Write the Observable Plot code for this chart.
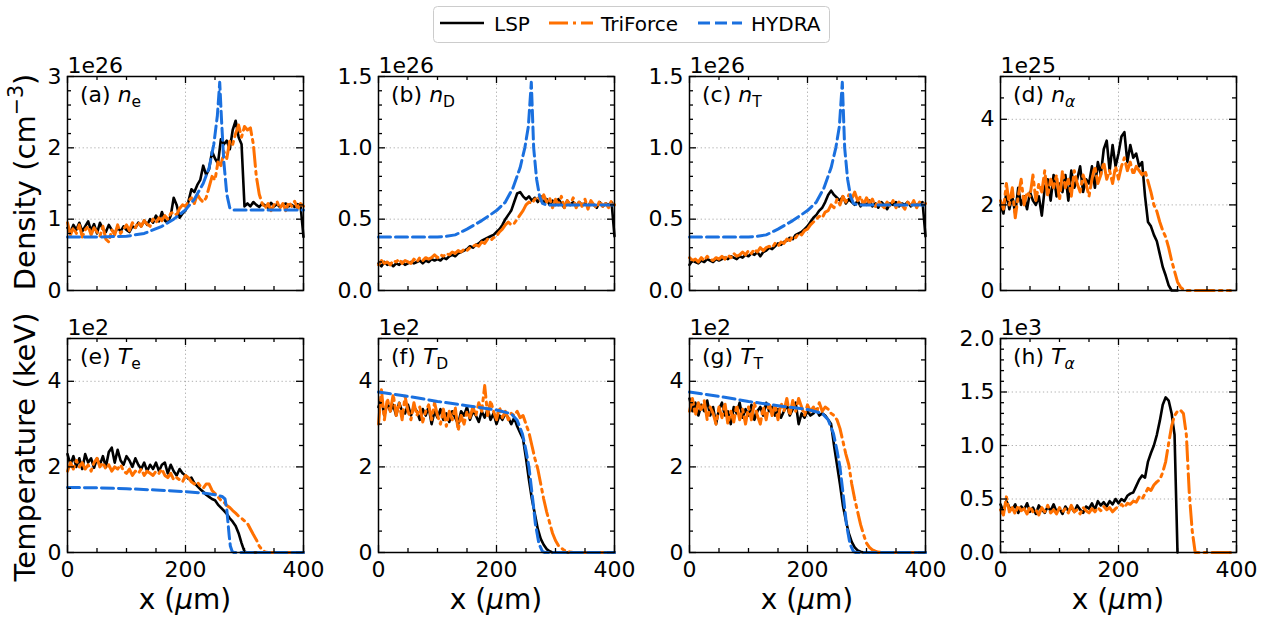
<!DOCTYPE html>
<html><head><meta charset="utf-8">
<script src="https://cdn.jsdelivr.net/npm/d3@7"></script>
<script src="https://cdn.jsdelivr.net/npm/@observablehq/plot@0.6"></script>
<style>
body{margin:0;background:#fff;}
#wrap{position:relative;width:1268px;height:619px;background:#fff;overflow:hidden;}
#wrap svg{position:absolute;}
</style></head><body><div id="wrap"></div>
<script>
// ---------- data ----------
const seriesNames = ["LSP", "TriForce", "HYDRA"];
const xGrid = [0,5,10,15,20,25,30,35,40,45,50,55,60,65,70,75,80,85,90,95,100,105,110,115,120,125,130,135,140,145,150,155,160,165,170,175,180,185,190,195,200,205,210,215,220,225,230,235,240,245,250,255,260,265,270,275,280,285,290,295,300,305,310,315,320,325,330,335,340,345,350,355,360,365,370,375,380,385,390,395,400];
const xMajor = [0,200,400];
const xMajorText = ["0","200","400"];

// (a) n_e  [1e26 cm^-3]
const aLSP = [0.88,0.82,0.92,0.85,0.95,0.83,0.90,0.97,0.84,0.93,
 0.80,0.95,0.86,0.82,0.92,0.85,0.80,0.88,0.83,0.90,
 0.85,0.82,0.90,0.88,0.95,0.90,0.98,0.92,1.00,0.95,
 1.05,0.97,1.10,0.98,0.95,1.05,1.30,1.20,1.02,1.08,
 1.12,1.25,1.42,1.38,1.48,1.55,1.75,1.62,1.70,1.95,
 1.85,1.78,2.12,2.05,2.10,1.98,2.25,2.38,2.15,2.05,
 1.18,1.22,1.18,1.24,1.20,1.17,1.22,1.19,1.16,1.23,
 1.18,1.21,1.17,1.20,1.22,1.18,1.20,1.17,1.21,1.19,
 0.75];
const aTri = [0.95,0.78,0.88,0.80,0.92,0.75,0.85,0.90,0.78,0.88,
 0.82,0.76,0.90,0.72,0.68,0.85,0.78,0.92,0.80,0.86,
 0.92,0.84,0.95,0.88,0.96,0.90,0.98,0.93,0.90,1.00,
 0.95,1.02,0.98,1.05,1.00,1.08,1.10,1.06,1.15,1.20,
 1.18,1.25,1.30,1.22,1.35,1.28,1.24,1.30,1.45,1.60,
 1.55,1.80,1.75,1.95,1.85,2.10,2.05,2.20,2.32,2.15,
 2.30,2.25,2.28,2.05,1.60,1.35,1.22,1.15,1.22,1.12,
 1.20,1.25,1.15,1.22,1.12,1.24,1.18,1.25,1.15,1.22,
 1.18];
const aHydX = [0,50,100,130,160,180,200,215,230,240,248,254,258,261,265,270,275,280,300,400];
const aHydY = [0.75,0.75,0.76,0.80,0.90,1.00,1.13,1.28,1.50,1.72,2.05,2.45,2.92,2.40,1.80,1.35,1.16,1.13,1.13,1.13];

// (b) n_D  [1e26]
const bLSP = [0.19,0.17,0.20,0.18,0.19,0.17,0.19,0.18,0.20,0.18,
 0.19,0.20,0.19,0.20,0.21,0.19,0.21,0.20,0.22,0.21,
 0.22,0.21,0.23,0.22,0.24,0.25,0.24,0.26,0.27,0.28,
 0.29,0.31,0.30,0.32,0.33,0.35,0.36,0.37,0.38,0.39,
 0.41,0.43,0.46,0.50,0.53,0.56,0.62,0.68,0.69,0.66,
 0.64,0.66,0.63,0.65,0.62,0.66,0.61,0.64,0.60,0.63,
 0.60,0.64,0.61,0.58,0.63,0.60,0.62,0.59,0.62,0.60,
 0.61,0.59,0.62,0.60,0.58,0.62,0.59,0.61,0.60,0.62,
 0.38];
const bTri = [0.18,0.21,0.19,0.20,0.18,0.21,0.20,0.22,0.19,0.21,
 0.20,0.19,0.22,0.20,0.23,0.21,0.23,0.22,0.23,0.25,
 0.23,0.25,0.24,0.26,0.25,0.27,0.26,0.28,0.27,0.29,
 0.28,0.30,0.31,0.32,0.31,0.34,0.33,0.36,0.35,0.37,
 0.38,0.41,0.43,0.46,0.48,0.46,0.47,0.50,0.53,0.56,
 0.60,0.62,0.61,0.64,0.66,0.63,0.67,0.62,0.65,0.58,
 0.64,0.60,0.66,0.58,0.63,0.60,0.65,0.58,0.62,0.59,
 0.64,0.57,0.63,0.60,0.58,0.63,0.59,0.61,0.58,0.63,
 0.60];
const bHydX = [0,50,100,115,130,150,175,200,215,228,240,248,254,259,263,268,273,278,284,300,400];
const bHydY = [0.375,0.375,0.375,0.38,0.39,0.43,0.49,0.56,0.62,0.72,0.86,1.0,1.15,1.46,1.0,0.78,0.66,0.61,0.60,0.60,0.60];

// (c) n_T  [1e26]
const cLSP = [0.18,0.21,0.20,0.19,0.21,0.20,0.22,0.21,0.20,0.22,
 0.21,0.22,0.23,0.22,0.24,0.23,0.22,0.24,0.23,0.25,
 0.24,0.26,0.25,0.27,0.24,0.27,0.28,0.30,0.29,0.31,
 0.33,0.32,0.34,0.35,0.37,0.36,0.39,0.40,0.41,0.43,
 0.45,0.48,0.51,0.53,0.56,0.58,0.62,0.67,0.70,0.67,
 0.65,0.63,0.66,0.61,0.64,0.62,0.60,0.63,0.59,0.62,
 0.60,0.63,0.59,0.61,0.58,0.62,0.60,0.57,0.61,0.60,
 0.62,0.59,0.61,0.60,0.62,0.59,0.61,0.60,0.61,0.62,
 0.38];
const cTri = [0.23,0.21,0.22,0.20,0.23,0.21,0.24,0.22,0.21,0.23,
 0.22,0.24,0.22,0.25,0.23,0.26,0.24,0.25,0.27,0.25,
 0.28,0.26,0.29,0.27,0.30,0.28,0.30,0.31,0.30,0.33,
 0.31,0.34,0.33,0.36,0.35,0.38,0.37,0.40,0.39,0.42,
 0.43,0.46,0.48,0.50,0.52,0.51,0.55,0.56,0.60,0.58,
 0.64,0.60,0.66,0.62,0.67,0.64,0.69,0.63,0.66,0.60,
 0.65,0.61,0.64,0.59,0.63,0.60,0.58,0.62,0.59,0.63,
 0.58,0.62,0.60,0.57,0.62,0.59,0.63,0.58,0.62,0.60,
 0.61];
const cHydX = [0,50,100,115,130,150,175,200,215,228,240,248,254,259,263,268,273,278,284,300,400];
const cHydY = [0.375,0.375,0.375,0.38,0.39,0.43,0.49,0.56,0.62,0.72,0.86,1.0,1.15,1.46,1.0,0.78,0.66,0.61,0.60,0.60,0.60];

// (d) n_alpha  [1e25]
const dLSP = [2.0,1.8,2.3,1.9,2.2,1.8,2.4,2.0,2.2,1.9,
 2.3,2.1,2.0,2.2,1.75,2.4,2.6,2.1,2.7,2.2,
 2.5,2.3,2.7,2.1,2.8,2.4,2.6,2.9,2.3,2.6,
 2.5,2.9,2.4,3.0,2.7,3.3,3.5,2.8,3.4,2.9,
 3.2,3.6,3.7,3.0,3.4,3.1,3.2,2.9,3.0,2.2,
 1.6,1.5,1.3,1.15,0.85,0.55,0.35,0.12,0,0,
 0];
const dTri = [2.1,1.9,2.5,2.0,2.4,1.7,2.2,2.6,2.0,2.3,
 2.2,2.7,2.1,2.5,2.3,2.8,2.2,2.6,2.4,2.7,
 2.1,2.8,2.4,2.6,2.2,2.8,2.5,2.3,2.7,2.5,
 2.2,2.6,2.9,2.5,2.7,3.0,2.6,2.8,2.5,2.9,
 2.6,2.9,3.1,2.8,3.0,2.7,2.9,2.8,2.7,2.8,
 2.55,2.3,2.0,1.85,1.6,1.4,1.25,1.0,0.7,0.45,
 0.2,0.08,0.02,0,0,0,0,0,0,0,
 0,0,0,0,0,0,0,0,0];

// (e) T_e  [1e2 keV]
const eLSP = [2.3,2.05,2.25,2.0,2.2,1.95,2.3,2.1,2.2,1.98,
 2.2,2.05,2.25,2.0,2.35,2.45,2.1,2.4,2.15,2.05,
 2.25,2.15,2.0,2.2,2.05,1.95,2.1,1.9,2.05,1.95,
 2.1,1.9,2.05,2.1,1.85,2.05,1.9,1.8,1.95,1.85,
 1.8,1.72,1.75,1.62,1.55,1.48,1.42,1.35,1.3,1.25,
 1.22,1.12,1.05,0.98,0.9,0.8,0.72,0.62,0.45,0.22,
 0.02,0,0,0,0,0,0,0,0,0,
 0,0,0,0,0,0,0,0,0,0,
 0];
const eTri = [1.9,2.1,1.95,2.15,2.0,2.1,1.95,2.05,1.9,2.1,
 2.2,2.0,2.1,1.95,2.05,1.9,2.0,1.95,2.05,1.9,
 1.85,1.95,1.8,1.9,1.85,1.95,1.8,1.9,1.85,1.8,
 1.9,1.85,1.95,1.8,1.75,1.85,1.7,1.75,1.7,1.65,
 1.8,1.75,1.65,1.6,1.65,1.55,1.5,1.6,1.6,1.45,
 1.38,1.3,1.22,1.18,1.1,1.05,0.98,0.92,0.85,0.8,
 0.74,0.68,0.55,0.42,0.3,0.15,0.06,0.01,0,0,
 0,0,0,0,0,0,0,0,0,0,
 0];
const eHydX = [0,50,100,150,200,230,250,262,267,270,272,274,276,279,282,400];
const eHydY = [1.52,1.51,1.49,1.46,1.42,1.39,1.35,1.31,1.25,1.0,0.7,0.4,0.15,0.03,0,0];

// (f) T_D  [1e2 keV]
const fLSP = [3.4,3.6,3.2,3.5,3.3,3.45,3.2,3.5,3.3,3.25,
 3.45,3.2,3.4,3.3,3.1,3.35,3.2,3.4,3.0,3.3,
 3.15,3.35,3.1,3.25,3.05,3.3,3.15,3.0,3.3,3.2,
 3.4,3.1,3.3,3.2,3.05,3.3,3.15,3.35,3.1,3.25,
 3.0,3.2,3.1,3.25,3.15,3.0,3.15,2.95,2.8,2.65,
 2.2,1.7,1.25,0.9,0.55,0.32,0.18,0.08,0.03,0,
 0,0,0,0,0,0,0,0,0,0,
 0,0,0,0,0,0,0,0,0,0,
 0];
const fTri = [3.0,3.8,3.1,3.6,3.3,3.7,3.2,3.5,3.1,3.65,
 3.3,3.1,3.5,3.2,3.4,3.05,3.3,3.45,3.1,3.5,
 3.2,3.0,3.35,2.95,3.3,3.1,3.4,2.85,3.2,3.0,
 3.3,3.15,3.4,3.2,3.5,3.3,3.9,3.2,3.55,3.3,
 3.1,3.4,3.15,3.3,3.1,3.25,3.2,3.3,3.15,3.2,
 3.0,2.8,2.5,2.2,1.95,1.6,1.25,0.95,0.7,0.45,
 0.28,0.16,0.1,0.05,0.03,0.01,0,0,0,0,
 0,0,0,0,0,0,0,0,0,0,
 0];
const fHydX = [0,50,100,150,200,225,235,244,250,255,261,266,272,278,282,400];
const fHydY = [3.75,3.65,3.53,3.43,3.33,3.24,3.09,2.77,2.38,2.0,1.29,0.66,0.2,0.02,0,0];

// (g) T_T  [1e2 keV]
const gLSP = [3.6,3.3,3.5,3.2,3.45,3.3,3.55,3.2,3.4,3.0,
 3.35,3.5,3.2,3.3,3.0,3.4,3.25,3.5,3.15,3.35,
 3.2,3.45,3.1,3.3,3.4,3.2,3.5,3.3,3.4,3.2,
 3.35,3.15,3.3,3.45,3.2,3.35,3.5,3.0,3.25,3.15,
 3.3,3.2,3.25,3.35,3.2,3.25,3.2,3.1,3.0,2.5,
 2.05,1.6,1.1,0.75,0.45,0.25,0.12,0.05,0.02,0,
 0,0,0,0,0,0,0,0,0,0,
 0,0,0,0,0,0,0,0,0,0,
 0];
const gTri = [3.3,3.6,3.2,3.5,3.3,3.55,3.1,3.4,3.25,3.0,
 3.4,3.15,3.5,3.0,3.3,3.05,3.45,3.1,3.35,3.0,
 3.4,3.1,3.5,3.2,3.0,3.4,3.1,3.5,3.2,3.45,
 3.1,3.5,3.3,3.6,3.2,3.55,3.3,3.6,3.4,3.2,
 3.45,3.3,3.4,3.25,3.5,3.3,3.4,3.35,3.25,3.2,
 3.1,2.9,2.6,2.3,2.05,1.6,1.25,0.95,0.65,0.42,
 0.22,0.12,0.06,0.03,0.01,0,0,0,0,0,
 0,0,0,0,0,0,0,0,0,0,
 0];
const gHydX = [0,50,100,150,200,225,235,244,250,255,261,266,272,278,282,400];
const gHydY = [3.75,3.65,3.53,3.43,3.34,3.25,3.1,2.78,2.38,2.0,1.29,0.66,0.2,0.02,0,0];

// (h) T_alpha  [1e3 keV]
const hLSP = [0.45,0.38,0.48,0.42,0.40,0.45,0.37,0.43,0.40,0.46,
 0.38,0.42,0.36,0.44,0.40,0.37,0.43,0.39,0.45,0.38,
 0.41,0.36,0.43,0.39,0.42,0.38,0.44,0.40,0.37,0.43,
 0.41,0.46,0.40,0.48,0.44,0.47,0.43,0.48,0.45,0.50,
 0.46,0.50,0.48,0.53,0.55,0.56,0.62,0.68,0.72,0.70,
 0.85,0.93,1.0,1.1,1.23,1.38,1.45,1.42,1.3,1.1,
 0];
const hTri = [0.40,0.35,0.52,0.38,0.42,0.36,0.44,0.39,0.41,0.36,
 0.43,0.38,0.40,0.35,0.42,0.38,0.44,0.37,0.40,0.36,
 0.42,0.38,0.41,0.37,0.44,0.38,0.40,0.36,0.42,0.39,
 0.37,0.41,0.38,0.42,0.39,0.43,0.40,0.42,0.38,0.41,
 0.43,0.45,0.42,0.46,0.45,0.48,0.47,0.52,0.50,0.55,
 0.60,0.58,0.63,0.66,0.68,0.75,0.85,1.02,1.18,1.28,
 1.32,1.33,1.30,1.1,0.55,0.2,0,0,0,0,
 0,0,0,0,0,0,0,0,0];

// axis tick values / labels
const yTicksA = [0,1,2,3], yTextA = ["0","1","2","3"];
const yTicksB = [0,0.5,1.0,1.5], yTextB = ["0.0","0.5","1.0","1.5"];
const yTicks5 = [0,2,4], yText5 = ["0","2","4"];
const yTicksH = [0,0.5,1.0,1.5,2.0], yTextH = ["0.0","0.5","1.0","1.5","2.0"];

const C_LSP = "#000000", C_TRI = "#ff7000", C_HYD = "#1a70df";

const panels = [
  {col:0,row:0,dom:[0,3],  ticks:yTicksA,text:yTextA,minor:0.2,exp:"1e26",lab:["(a) ","n","e",false],lsp:aLSP,tri:aTri,hx:aHydX,hy:aHydY},
  {col:1,row:0,dom:[0,1.5],ticks:yTicksB,text:yTextB,minor:0.1,exp:"1e26",lab:["(b) ","n","D",false],lsp:bLSP,tri:bTri,hx:bHydX,hy:bHydY},
  {col:2,row:0,dom:[0,1.5],ticks:yTicksB,text:yTextB,minor:0.1,exp:"1e26",lab:["(c) ","n","T",false],lsp:cLSP,tri:cTri,hx:cHydX,hy:cHydY},
  {col:3,row:0,dom:[0,5],  ticks:yTicks5,text:yText5,minor:0.5,exp:"1e25",lab:["(d) ","n","α",true],lsp:dLSP,tri:dTri},
  {col:0,row:1,dom:[0,5],  ticks:yTicks5,text:yText5,minor:0.5,exp:"1e2",lab:["(e) ","T","e",false],lsp:eLSP,tri:eTri,hx:eHydX,hy:eHydY},
  {col:1,row:1,dom:[0,5],  ticks:yTicks5,text:yText5,minor:0.5,exp:"1e2",lab:["(f) ","T","D",false],lsp:fLSP,tri:fTri,hx:fHydX,hy:fHydY},
  {col:2,row:1,dom:[0,5],  ticks:yTicks5,text:yText5,minor:0.5,exp:"1e2",lab:["(g) ","T","T",false],lsp:gLSP,tri:gTri,hx:gHydX,hy:gHydY},
  {col:3,row:1,dom:[0,2],  ticks:yTicksH,text:yTextH,minor:0.1,exp:"1e3",lab:["(h) ","T","α",true],lsp:hLSP,tri:hTri}
];

// ---------- layout ----------
const FL = [67,378,689,1000], FT = [76,338], FW = 236, FH = 214;
const mL = 60, mR = 10, mT = 30;
const wrap = document.getElementById("wrap");
const font = "DejaVu Sans";
const LW = {lsp:2.6, tri:3.0, hyd:3.0};
const DASH = {tri:"19,5,3,5", hyd:"12,5"};
const gridStyle = {stroke:"#b0b0b0", strokeWidth:1, strokeDasharray:"1.3,2.6"};
const tickStyle = {stroke:"black", strokeWidth:1.3};

for (const p of panels) {
  const bottom = p.row === 1;
  const mB = bottom ? 50 : 10;
  const lspData = p.lsp.map((y,i) => ({x:xGrid[i], y, s:"LSP"}));
  const triData = p.tri.map((y,i) => ({x:xGrid[i], y, s:"TriForce"}));
  const xMinor = d3.range(50, 400, 50).filter(v => !xMajor.includes(v));
  const yMinor = d3.range(0, p.dom[1] + 1e-9, p.minor).map(v => +v.toFixed(3)).filter(v => !p.ticks.some(t => Math.abs(t - v) < 1e-6));
  const marks = [
    Plot.ruleX(xMajor.slice(1,-1), gridStyle),
    Plot.ruleY(p.ticks.slice(1, p.ticks[p.ticks.length-1] === p.dom[1] ? -1 : undefined), gridStyle),
    Plot.line(lspData, {x:"x", y:"y", stroke:C_LSP, strokeWidth:LW.lsp}),
    Plot.line(triData, {x:"x", y:"y", stroke:C_TRI, strokeWidth:LW.tri, strokeDasharray:DASH.tri})
  ];
  if (p.hx) {
    const hydData = p.hx.map((x,i) => ({x, y:p.hy[i], s:"HYDRA"}));
    marks.push(Plot.line(hydData, {x:"x", y:"y", stroke:C_HYD, strokeWidth:LW.hyd, strokeDasharray:DASH.hyd}));
  }
  marks.push(
    Plot.frame({stroke:"black", strokeWidth:1.5}),
    Plot.ruleX(xMajor, {...tickStyle, insetTop:FH-7}),
    Plot.ruleX(xMajor, {...tickStyle, insetBottom:FH-7}),
    Plot.ruleX(xMinor, {...tickStyle, insetTop:FH-4}),
    Plot.ruleX(xMinor, {...tickStyle, insetBottom:FH-4}),
    Plot.ruleY(p.ticks, {...tickStyle, insetRight:FW-7}),
    Plot.ruleY(p.ticks, {...tickStyle, insetLeft:FW-7}),
    Plot.ruleY(yMinor, {...tickStyle, insetRight:FW-4}),
    Plot.ruleY(yMinor, {...tickStyle, insetLeft:FW-4}),
    Plot.axisY(p.ticks, {tickSize:0, tickPadding:6, tickFormat:(d) => p.text[p.ticks.indexOf(d)], label:null}),
    Plot.text([p.exp], {text:(d) => d, frameAnchor:"top-left", textAnchor:"start", lineAnchor:"bottom", dy:-4})
  );
  if (bottom) marks.push(Plot.axisX(xMajor, {tickSize:0, tickPadding:9, tickFormat:(d) => xMajorText[xMajor.indexOf(d)], label:null}));
  const svg = Plot.plot({
    width: mL + FW + mR, height: mT + FH + mB,
    marginLeft: mL, marginRight: mR, marginTop: mT, marginBottom: mB,
    x: {domain:[0,400], axis: bottom ? undefined : null},
    y: {domain:p.dom},
    style: {fontFamily:font, fontSize:"22px", color:"black", background:"transparent", overflow:"visible"},
    marks
  });
  svg.style.left = (FL[p.col] - mL) + "px";
  svg.style.top = (FT[p.row] - mT) + "px";
  wrap.appendChild(svg);
}

// ---------- overlay: panel labels, axis titles, legend ----------
const ov = d3.select(wrap).append("svg")
  .attr("width", 1268).attr("height", 619)
  .style("left","0px").style("top","0px")
  .attr("font-family", font).attr("fill", "black");

for (const p of panels) {
  const [pre, sym, sub, subItalic] = p.lab;
  const t = ov.append("text").attr("x", FL[p.col] + 13).attr("y", FT[p.row] + 26).attr("font-size", 22);
  t.append("tspan").text(pre);
  t.append("tspan").attr("font-style","italic").text(sym);
  t.append("tspan").attr("font-size", 15.5).attr("dy", 4.5).attr("font-style", subItalic ? "italic" : "normal").text(sub);
}

// y titles
const yt1 = ov.append("text").attr("transform","translate(35,182) rotate(-90)").attr("text-anchor","middle").attr("font-size",29);
yt1.append("tspan").text("Density (cm");
yt1.append("tspan").attr("font-size",20.5).attr("dy",-12).text("−3");
yt1.append("tspan").attr("dy",12).text(")");
ov.append("text").attr("transform","translate(35,447) rotate(-90)").attr("text-anchor","middle").attr("font-size",29).text("Temperature (keV)");

// x titles
for (let c = 0; c < 4; c++) {
  const t = ov.append("text").attr("x", FL[c] + FW/2).attr("y", 609).attr("text-anchor","middle").attr("font-size",28);
  t.append("tspan").text("x (");
  t.append("tspan").attr("font-style","italic").text("μ");
  t.append("tspan").text("m)");
}

// legend
const lg = ov.append("g");
lg.append("rect").attr("x",433.5).attr("y",6.5).attr("width",396).attr("height",36).attr("rx",4)
  .attr("fill","white").attr("fill-opacity",0.8).attr("stroke","#cccccc").attr("stroke-width",1);
const legendItems = [
  {name:seriesNames[0], x0:440, tx:494, color:C_LSP, w:LW.lsp, dash:null},
  {name:seriesNames[1], x0:549, tx:601, color:C_TRI, w:LW.tri, dash:DASH.tri},
  {name:seriesNames[2], x0:698, tx:751, color:C_HYD, w:LW.hyd, dash:DASH.hyd}
];
for (const it of legendItems) {
  const l = lg.append("line").attr("x1",it.x0).attr("x2",it.x0+44).attr("y1",23).attr("y2",23)
    .attr("stroke",it.color).attr("stroke-width",it.w);
  if (it.dash) l.attr("stroke-dasharray", it.dash);
  lg.append("text").attr("x",it.tx).attr("y",31).attr("font-size",20).text(it.name);
}
</script>
</body></html>
